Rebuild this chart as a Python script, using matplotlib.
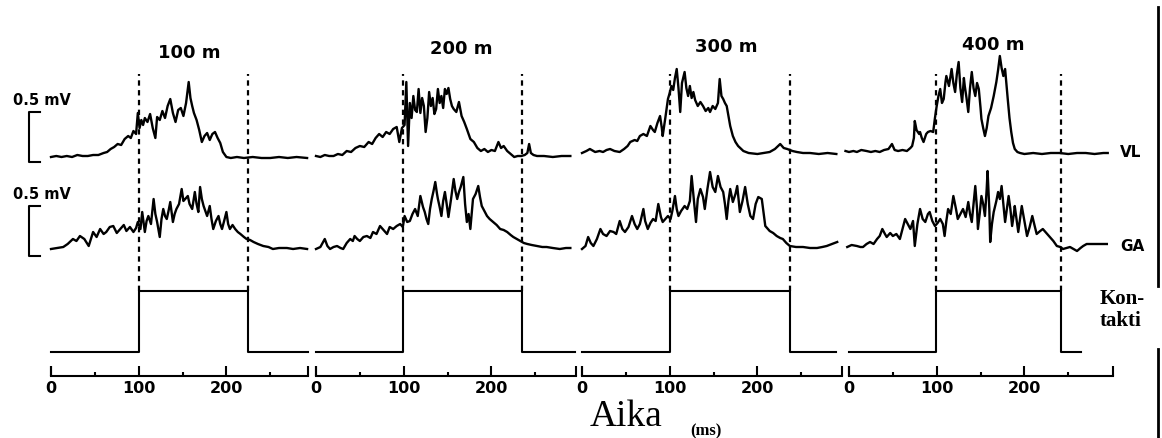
# EMG (VL, GA) ja kontaktiaika eri juoksumatkoilla
import numpy as np
import matplotlib
matplotlib.use("Agg")
import matplotlib.pyplot as plt
from matplotlib.lines import Line2D

plt.rcParams['font.family'] = ['DejaVu Sans']
plt.rcParams['font.weight'] = 'bold'

distances = ["100 m", "200 m", "300 m", "400 m"]

# [aika ms, mV baseline-tasosta], luettu kuvasta
vl_100 = np.array([[0, 0.01], [6, 0.02], [12, 0.01], [18, 0.02], [24, 0.01], [30, 0.03], [36, 0.02], [42, 0.02],
                   [48, 0.03], [54, 0.03], [60, 0.05], [64, 0.06], [68, 0.09], [72, 0.11], [76, 0.14], [80, 0.13],
                   [84, 0.19], [88, 0.22], [91, 0.20], [94, 0.27], [97, 0.24], [99, 0.45], [101, 0.30], [103, 0.38],
                   [105, 0.33], [107, 0.40], [110, 0.36], [113, 0.44], [116, 0.30], [119, 0.20], [121, 0.41],
                   [124, 0.38], [127, 0.47], [130, 0.40], [133, 0.52], [136, 0.59], [139, 0.45], [142, 0.36],
                   [145, 0.48], [148, 0.50], [151, 0.42], [154, 0.55], [157, 0.76], [159, 0.60], [161, 0.52],
                   [163, 0.45], [166, 0.38], [169, 0.28], [172, 0.16], [175, 0.22], [178, 0.25], [181, 0.18],
                   [184, 0.24], [187, 0.26], [190, 0.20], [193, 0.15], [196, 0.06], [200, 0.01], [205, 0.00],
                   [212, 0.01], [220, 0.00], [230, 0.01], [240, 0.00], [250, 0.00], [260, 0.01], [270, 0.00],
                   [280, 0.01], [292, 0.00]])
vl_200 = np.array([[0, 0.02], [5, 0.01], [10, 0.03], [15, 0.02], [20, 0.02], [25, 0.04], [30, 0.03], [35, 0.07],
                   [40, 0.06], [45, 0.10], [50, 0.12], [55, 0.11], [60, 0.16], [64, 0.14], [68, 0.20], [72, 0.24],
                   [76, 0.21], [80, 0.26], [84, 0.24], [88, 0.29], [92, 0.31], [95, 0.16], [98, 0.30], [101, 0.33],
                   [103, 0.76], [105, 0.12], [107, 0.55], [109, 0.40], [111, 0.62], [113, 0.48], [115, 0.46],
                   [117, 0.69], [119, 0.45], [121, 0.60], [123, 0.52], [125, 0.26], [127, 0.40], [129, 0.66],
                   [131, 0.52], [133, 0.60], [135, 0.44], [137, 0.49], [139, 0.69], [141, 0.55], [143, 0.62],
                   [145, 0.50], [147, 0.69], [149, 0.64], [151, 0.70], [153, 0.59], [155, 0.52], [157, 0.49],
                   [160, 0.46], [163, 0.56], [166, 0.42], [169, 0.36], [172, 0.29], [176, 0.19], [180, 0.16],
                   [184, 0.10], [188, 0.07], [192, 0.09], [196, 0.06], [200, 0.08], [204, 0.07], [208, 0.16],
                   [211, 0.10], [214, 0.12], [218, 0.07], [222, 0.04], [226, 0.01], [230, 0.02], [234, 0.02],
                   [238, 0.03], [241, 0.05], [243, 0.14], [245, 0.05], [248, 0.03], [252, 0.02], [260, 0.02],
                   [270, 0.01], [280, 0.02], [290, 0.02]])
vl_300 = np.array([[0, 0.05], [5, 0.07], [9, 0.09], [15, 0.06], [20, 0.07], [24, 0.06], [28, 0.08], [32, 0.09],
                   [37, 0.07], [43, 0.06], [48, 0.09], [52, 0.12], [55, 0.16], [60, 0.18], [63, 0.17], [66, 0.22],
                   [70, 0.24], [74, 0.22], [78, 0.32], [81, 0.28], [83, 0.26], [86, 0.35], [89, 0.42], [91, 0.30],
                   [92, 0.22], [95, 0.40], [98, 0.59], [100, 0.65], [102, 0.72], [104, 0.68], [106, 0.80],
                   [108, 0.89], [110, 0.70], [112, 0.46], [114, 0.75], [117, 0.86], [119, 0.70], [121, 0.62],
                   [123, 0.72], [125, 0.60], [127, 0.66], [129, 0.58], [132, 0.52], [135, 0.56], [138, 0.52],
                   [141, 0.47], [144, 0.50], [146, 0.46], [149, 0.52], [152, 0.49], [155, 0.55], [157, 0.79],
                   [159, 0.62], [161, 0.59], [163, 0.55], [165, 0.52], [169, 0.32], [172, 0.22], [175, 0.16],
                   [178, 0.12], [184, 0.07], [190, 0.05], [200, 0.04], [207, 0.05], [214, 0.06], [220, 0.09],
                   [226, 0.14], [230, 0.10], [234, 0.09], [240, 0.07], [245, 0.06], [252, 0.05], [260, 0.05],
                   [270, 0.04], [280, 0.05], [290, 0.04]])
vl_400 = np.array([[-4, 0.07], [0, 0.06], [5, 0.07], [9, 0.06], [14, 0.08], [20, 0.07], [25, 0.06], [30, 0.07],
                   [35, 0.06], [40, 0.08], [45, 0.09], [49, 0.14], [52, 0.08], [56, 0.07], [61, 0.08], [66, 0.07],
                   [70, 0.10], [72, 0.12], [74, 0.20], [75, 0.37], [77, 0.28], [80, 0.24], [81, 0.26], [83, 0.20],
                   [85, 0.16], [88, 0.24], [90, 0.26], [93, 0.27], [96, 0.26], [98, 0.40], [100, 0.52], [102, 0.62],
                   [104, 0.69], [106, 0.55], [108, 0.59], [110, 0.76], [111, 0.82], [114, 0.72], [117, 0.89],
                   [119, 0.75], [121, 0.66], [123, 0.84], [125, 0.96], [127, 0.70], [129, 0.56], [131, 0.80],
                   [132, 0.72], [134, 0.60], [136, 0.46], [138, 0.70], [140, 0.86], [142, 0.70], [144, 0.62],
                   [146, 0.75], [148, 0.69], [150, 0.50], [151, 0.39], [153, 0.30], [155, 0.22], [157, 0.30],
                   [159, 0.42], [162, 0.50], [165, 0.62], [168, 0.76], [170, 0.88], [172, 1.02], [174, 0.90],
                   [176, 0.82], [178, 0.89], [181, 0.59], [183, 0.40], [185, 0.26], [187, 0.15], [189, 0.09],
                   [192, 0.06], [195, 0.05], [200, 0.04], [210, 0.05], [220, 0.04], [230, 0.05], [240, 0.05],
                   [250, 0.04], [260, 0.05], [270, 0.05], [280, 0.04], [290, 0.05], [295, 0.05]])

ga_100 = np.array([[0, 0.00], [7, 0.01], [14, 0.02], [19, 0.05], [25, 0.10], [29, 0.08], [33, 0.13], [38, 0.10],
                   [43, 0.03], [48, 0.17], [52, 0.12], [56, 0.20], [60, 0.15], [63, 0.17], [67, 0.22], [71, 0.23],
                   [75, 0.16], [79, 0.20], [83, 0.24], [86, 0.18], [90, 0.22], [94, 0.17], [97, 0.21], [99, 0.27],
                   [102, 0.20], [104, 0.37], [107, 0.17], [109, 0.28], [111, 0.33], [114, 0.25], [117, 0.50],
                   [119, 0.35], [121, 0.27], [124, 0.12], [126, 0.30], [128, 0.40], [130, 0.33], [132, 0.30],
                   [134, 0.38], [136, 0.47], [139, 0.27], [141, 0.35], [143, 0.40], [146, 0.45], [149, 0.60],
                   [151, 0.48], [153, 0.50], [156, 0.53], [158, 0.45], [161, 0.40], [164, 0.57], [166, 0.45],
                   [168, 0.37], [170, 0.62], [172, 0.50], [174, 0.43], [176, 0.38], [178, 0.33], [181, 0.43],
                   [183, 0.30], [185, 0.20], [188, 0.28], [191, 0.33], [193, 0.25], [195, 0.20], [198, 0.30],
                   [200, 0.37], [202, 0.25], [204, 0.20], [207, 0.24], [210, 0.20], [213, 0.17], [216, 0.15],
                   [220, 0.12], [223, 0.10], [227, 0.09], [231, 0.07], [236, 0.05], [242, 0.03], [248, 0.02],
                   [253, 0.00], [260, 0.01], [269, 0.01], [276, 0.00], [284, 0.01], [292, 0.00]])
ga_200 = np.array([[0, 0.00], [5, 0.02], [10, 0.10], [13, 0.03], [16, 0.00], [20, 0.02], [24, 0.03], [28, 0.01],
                   [31, 0.00], [35, 0.06], [39, 0.10], [42, 0.08], [44, 0.13], [47, 0.10], [50, 0.08], [54, 0.12],
                   [58, 0.13], [62, 0.11], [65, 0.17], [69, 0.15], [73, 0.23], [77, 0.19], [81, 0.15], [84, 0.22],
                   [88, 0.20], [92, 0.23], [96, 0.25], [99, 0.22], [101, 0.33], [104, 0.27], [107, 0.28],
                   [110, 0.35], [113, 0.40], [116, 0.33], [119, 0.53], [122, 0.42], [124, 0.37], [126, 0.30],
                   [128, 0.25], [130, 0.40], [132, 0.50], [134, 0.58], [136, 0.67], [138, 0.55], [139, 0.50],
                   [141, 0.42], [143, 0.33], [145, 0.48], [147, 0.57], [149, 0.45], [151, 0.32], [154, 0.50],
                   [157, 0.70], [159, 0.58], [161, 0.50], [163, 0.57], [165, 0.62], [168, 0.72], [170, 0.45],
                   [172, 0.27], [174, 0.35], [176, 0.20], [178, 0.40], [179, 0.50], [182, 0.55], [185, 0.63],
                   [187, 0.52], [189, 0.43], [192, 0.38], [195, 0.33], [198, 0.30], [202, 0.27], [206, 0.24],
                   [210, 0.20], [214, 0.19], [218, 0.17], [222, 0.14], [225, 0.12], [229, 0.10], [233, 0.08],
                   [237, 0.06], [241, 0.05], [246, 0.04], [252, 0.03], [258, 0.02], [263, 0.02], [270, 0.01],
                   [278, 0.00], [285, 0.01], [290, 0.01]])
ga_300 = np.array([[0, 0.00], [4, 0.03], [7, 0.12], [10, 0.06], [13, 0.03], [17, 0.10], [21, 0.20], [24, 0.15],
                   [28, 0.13], [32, 0.18], [36, 0.17], [39, 0.15], [43, 0.28], [46, 0.20], [49, 0.17], [53, 0.22],
                   [57, 0.33], [60, 0.25], [63, 0.20], [66, 0.25], [70, 0.40], [72, 0.28], [75, 0.20], [78, 0.26],
                   [81, 0.30], [84, 0.28], [87, 0.45], [90, 0.32], [92, 0.27], [95, 0.30], [98, 0.33], [101, 0.30],
                   [103, 0.38], [106, 0.53], [108, 0.40], [110, 0.33], [113, 0.38], [117, 0.43], [120, 0.40],
                   [123, 0.48], [125, 0.73], [128, 0.45], [130, 0.27], [132, 0.50], [135, 0.60], [138, 0.52],
                   [140, 0.40], [143, 0.60], [146, 0.77], [149, 0.62], [152, 0.57], [155, 0.73], [158, 0.62],
                   [161, 0.57], [163, 0.45], [165, 0.30], [167, 0.48], [169, 0.60], [172, 0.47], [175, 0.55],
                   [177, 0.63], [180, 0.37], [183, 0.48], [186, 0.62], [189, 0.45], [192, 0.33], [195, 0.30],
                   [198, 0.45], [201, 0.52], [205, 0.50], [209, 0.23], [214, 0.18], [218, 0.16], [222, 0.13],
                   [226, 0.11], [229, 0.10], [233, 0.06], [237, 0.03], [244, 0.02], [252, 0.02], [260, 0.01],
                   [268, 0.01], [274, 0.02], [279, 0.03], [285, 0.05], [291, 0.07]])
ga_400 = np.array([[-2, 0.02], [3, 0.04], [9, 0.03], [13, 0.02], [16, 0.02], [20, 0.05], [24, 0.07], [28, 0.05],
                   [32, 0.10], [35, 0.13], [38, 0.20], [41, 0.15], [43, 0.12], [47, 0.16], [50, 0.13], [54, 0.15],
                   [58, 0.10], [61, 0.20], [64, 0.30], [67, 0.25], [70, 0.20], [73, 0.28], [75, 0.03], [78, 0.25],
                   [81, 0.40], [84, 0.30], [87, 0.27], [90, 0.35], [92, 0.37], [95, 0.28], [98, 0.23], [101, 0.26],
                   [104, 0.30], [107, 0.25], [109, 0.13], [111, 0.28], [113, 0.40], [116, 0.35], [119, 0.53],
                   [122, 0.40], [124, 0.30], [127, 0.35], [130, 0.40], [133, 0.32], [136, 0.47], [138, 0.35],
                   [140, 0.27], [142, 0.45], [144, 0.63], [146, 0.40], [147, 0.20], [149, 0.35], [151, 0.53],
                   [153, 0.45], [155, 0.33], [157, 0.60], [158, 0.78], [160, 0.40], [161, 0.07], [163, 0.25],
                   [165, 0.37], [168, 0.48], [170, 0.57], [172, 0.50], [174, 0.63], [176, 0.45], [178, 0.27],
                   [180, 0.40], [182, 0.53], [184, 0.40], [186, 0.23], [188, 0.35], [189, 0.43], [191, 0.30],
                   [193, 0.17], [195, 0.30], [197, 0.43], [200, 0.28], [203, 0.13], [206, 0.22], [209, 0.33],
                   [212, 0.22], [214, 0.15], [218, 0.18], [221, 0.20], [225, 0.16], [229, 0.12], [233, 0.08],
                   [237, 0.03], [241, 0.02], [244, 0.00], [248, 0.01], [252, 0.02], [256, 0.00], [260, -0.02],
                   [264, 0.01], [267, 0.03], [271, 0.05], [275, 0.05], [285, 0.05], [294, 0.05]])

vl_traces = [vl_100, vl_200, vl_300, vl_400]
ga_traces = [ga_100, ga_200, ga_300, ga_400]

# kontaktin alku/loppu (ms)
contact_on = [100, 99, 100, 99]
contact_off = [225, 235, 237, 242]
contact_end = [293, 295, 290, 265]
axis_end = [293, 297, 297, 301]
major_ticks = [0, 100, 200]
minor_ticks = [50, 150, 250]
scale_mv = 0.5

# asettelu (pikseleina, 100 px = 1 mV)
W, H = 1162, 439
px_ms = 0.877
panel_x0 = [51, 316, 582, 849]
XMIN, XMAX = -30, 310
VL_ROW, GA_ROW = 2.80, 1.89
C_LO, C_HI = 0.86, 1.47
AXIS_Y = 0.62
DASH_TOP = 3.64
title_t = [158, 166, 165, 164]
title_y = [3.86, 3.90, 3.92, 3.94]

fig = plt.figure(figsize=(W / 100, H / 100), dpi=100)

for k in range(4):
    left = (panel_x0[k] + XMIN * px_ms) / W
    ax = fig.add_axes([left, 0, (XMAX - XMIN) * px_ms / W, 1])
    ax.set_xlim(XMIN, XMAX)
    ax.set_ylim(0, H / 100)
    ax.patch.set_visible(False)
    for s in ['top', 'right', 'left']:
        ax.spines[s].set_visible(False)
    ax.spines['bottom'].set_position(('data', AXIS_Y))
    ax.spines['bottom'].set_bounds(0, axis_end[k])
    ax.spines['bottom'].set_linewidth(1.5)
    ax.set_yticks([])
    ax.set_xticks(major_ticks)
    ax.set_xticks(minor_ticks, minor=True)
    ax.tick_params(axis='x', which='major', direction='in', length=7, width=1.5, pad=3, labelsize=11.5)
    ax.tick_params(axis='x', which='minor', direction='in', length=3, width=1.5)
    ax.vlines([0, axis_end[k]], AXIS_Y, AXIS_Y + 0.10, color='k', lw=1.5)

    vl = vl_traces[k]
    ga = ga_traces[k]
    ax.plot(vl[:, 0], VL_ROW + vl[:, 1], color='k', lw=1.7)
    ax.plot(ga[:, 0], GA_ROW + ga[:, 1], color='k', lw=1.7)

    on, off = contact_on[k], contact_off[k]
    ax.plot([0, on, on, off, off, contact_end[k]], [C_LO, C_LO, C_HI, C_HI, C_LO, C_LO], color='k', lw=1.5)
    ax.vlines([on, off], C_HI, DASH_TOP, color='k', lw=1.6, linestyles=(0, (2.4, 2.0)))

    ax.text(title_t[k], title_y[k], distances[k], ha='center', va='center', fontsize=13)

    if k == 0:
        # 0.5 mV mittakaavat
        for row, lab_y in [(VL_ROW - 0.04, 3.38), (GA_ROW - 0.07, 2.44)]:
            ax.plot([-12, -25, -25, -12], [row + scale_mv, row + scale_mv, row, row], color='k', lw=1.5,
                    clip_on=False)
            ax.text(-43, lab_y, "0.5 mV", ha='left', va='center', fontsize=10.5)
    if k == 3:
        ax.text(309, 2.86, "VL", ha='left', va='center', fontsize=11)
        ax.text(309, 1.92, "GA", ha='left', va='center', fontsize=11)
        ax.text(286, 1.29, "Kon-\ntakti", ha='left', va='center', fontsize=15, linespacing=1.1,
                family='Liberation Serif', weight='bold')

fig.text(590 / W, 1 - 417 / H, "Aika", ha='left', va='center', fontsize=27,
         family='Liberation Serif', weight='normal')
fig.text(690 / W, 1 - 431 / H, "(ms)", ha='left', va='center', fontsize=12,
         family='Liberation Serif', weight='bold')

fig.add_artist(Line2D([1158 / W, 1158 / W], [1 - 8 / H, 1 - 287 / H], color='k', lw=2))
fig.add_artist(Line2D([1158 / W, 1158 / W], [1 - 350 / H, 0], color='k', lw=2))

fig.savefig("out.png", dpi=100)
